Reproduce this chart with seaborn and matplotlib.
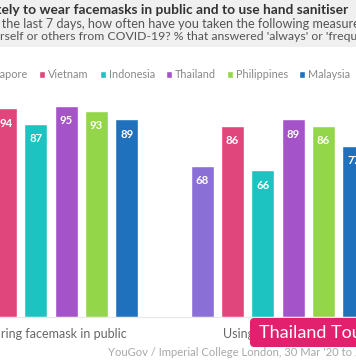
import matplotlib
matplotlib.use("Agg")
import matplotlib.pyplot as plt
from matplotlib.patches import Rectangle, FancyBboxPatch
import seaborn as sns
import pandas as pd

measures = ["Wearing facemask in public", "Using hand sanitiser"]
countries = ["Singapore", "Vietnam", "Indonesia", "Thailand", "Philippines", "Malaysia"]
facemask = [90, 94, 87, 95, 93, 89]
sanitiser = [68, 86, 66, 89, 86, 77]
colors = ["#8a6fd6", "#e0457b", "#1cc3c0", "#a553c9", "#93d64a", "#1f70bd"]

title = "Vietnamese most likely to wear facemasks in public and to use hand sanitiser"
sub1 = "In the last 7 days, how often have you taken the following measures to protect"
sub2 = "yourself or others from COVID-19? % that answered 'always' or 'frequently'"
source = "YouGov / Imperial College London, 30 Mar '20 to 27 Apr '20"
watermark = "Thailand Tourism"

sns.set_theme(style="white")
plt.rcParams['font.family'] = ['Lato', 'DejaVu Sans']

W, H = 356, 364
fig = plt.figure(figsize=(W / 100, H / 100), dpi=100)
fig.patch.set_facecolor("white")

def fx(px):
    return px / W

def fy(py):
    return 1 - py / H

# title band
fig.patches.append(Rectangle((0, fy(47)), 1, 1 - fy(47), transform=fig.transFigure,
                             facecolor="#f0f0f0", edgecolor="none", zorder=0))

rows = []
for c, a, b in zip(countries, facemask, sanitiser):
    rows.append({"measure": measures[0], "country": c, "value": a})
    rows.append({"measure": measures[1], "country": c, "value": b})
df = pd.DataFrame(rows)

base = 316.5
unit = 2.214
left_px = 51 - 0.5 * 227
ax = fig.add_axes([fx(left_px), fy(base), fx(2 * 227), (100 * unit) / H])
sns.barplot(data=df, x="measure", y="value", hue="country", order=measures,
            hue_order=countries, palette=colors, width=0.8, gap=0.24,
            saturation=1, ax=ax, legend=True)
ax.set_xlim(-0.5, 1.5)
ax.set_ylim(0, 100)
ax.set_xlabel("")
ax.set_ylabel("")
ax.set_yticks([])
for s in ["top", "right", "left"]:
    ax.spines[s].set_visible(False)
ax.spines["bottom"].set_color("#e8e8e8")
ax.spines["bottom"].set_linewidth(0.8)
ax.tick_params(axis="x", length=0, pad=8, labelsize=9, labelcolor="#666666")
ax.set_facecolor("none")

for cont in ax.containers:
    ax.bar_label(cont, fmt="%d", padding=-14.5, color="white", fontsize=8.2,
                 fontweight="bold")

sns.move_legend(ax, "center left", bbox_to_anchor=(fx(-39 - left_px) / fx(454), (base - 75) / (100 * unit)),
                ncol=6, frameon=False, title=None, fontsize=7.8, handlelength=0.55,
                handleheight=0.55, handletextpad=0.3, columnspacing=1.0,
                labelcolor="#888888")

fig.text(fx(348), fy(10), title, ha="right", va="center", fontsize=9.9,
         fontweight="bold", color="#333333")
fig.text(fx(-12), fy(24), sub1, ha="left", va="center", fontsize=9.1, color="#555555")
fig.text(fx(-20), fy(37), sub2, ha="left", va="center", fontsize=8.85, color="#555555")
fig.text(fx(108), fy(352), source, ha="left", va="center", fontsize=8.1, color="#a8a8a8")

fig.patches.append(FancyBboxPatch((fx(250), fy(347)), fx(140), fy(318) - fy(347),
                                  boxstyle="round,pad=0,rounding_size=0.012",
                                  transform=fig.transFigure, facecolor="#e2206d",
                                  edgecolor="none", zorder=5))
fig.text(fx(259), fy(333), watermark, ha="left", va="center", fontsize=13,
         color="white", zorder=6)

fig.savefig("out.png", dpi=100)
